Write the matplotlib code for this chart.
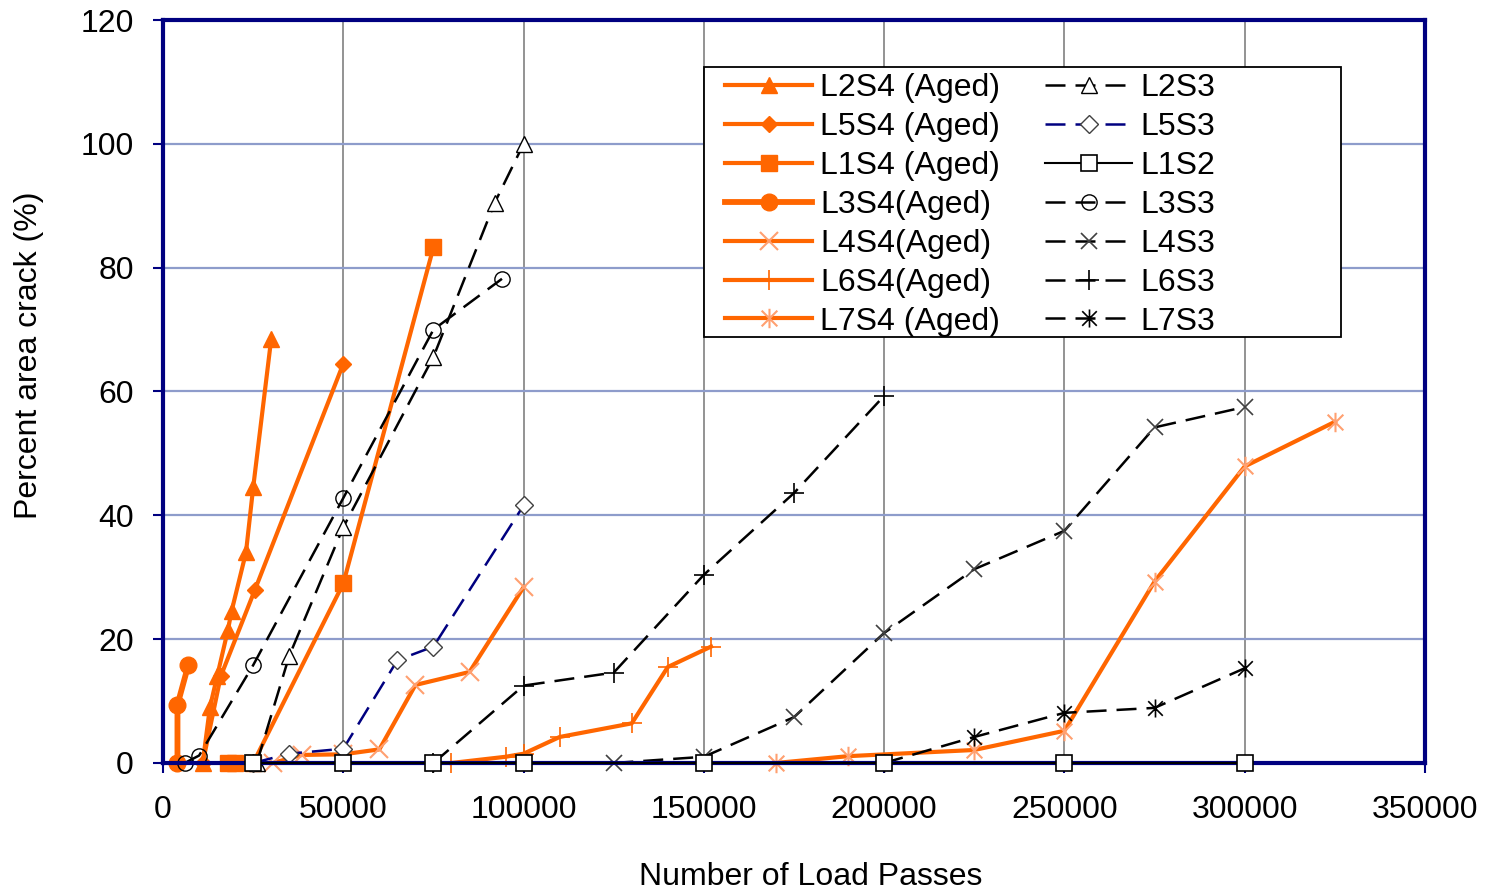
import matplotlib
matplotlib.use("Agg")
import matplotlib.pyplot as plt
from matplotlib.path import Path
from matplotlib.patches import Rectangle

plt.rcParams["font.family"] = ["Liberation Sans", "DejaVu Sans"]

# aged (S4) series
l2s4_x = [11000, 13000, 15000, 18000, 19000, 23000, 25000, 30000]
l2s4_y = [0, 9, 14, 21.5, 24.5, 34, 44.5, 68.5]
l5s4_x = [11000, 16000, 25500, 50000]
l5s4_y = [0, 14, 28, 64.5]
l1s4_x = [18000, 20000, 25000, 50000, 75000]
l1s4_y = [0, 0, 0, 29, 83.3]
l3s4_x = [4000, 4000, 7000]
l3s4_y = [0, 9.4, 15.8]
l4s4_x = [30500, 38500, 50000, 60000, 70000, 85000, 100000]
l4s4_y = [0, 1.3, 1.4, 2.2, 12.6, 14.7, 28.4]
l6s4_x = [80000, 95000, 100000, 110000, 130000, 140000, 152000]
l6s4_y = [0, 1.0, 1.5, 4.2, 6.4, 15.5, 18.8]
l7s4_x = [170000, 190000, 225000, 250000, 275000, 300000, 325000]
l7s4_y = [0, 1.1, 2.1, 5.2, 29.3, 47.9, 55.1]

# S3 / S2 series
l2s3_x = [26000, 35000, 50000, 75000, 92000, 100000]
l2s3_y = [0, 17.3, 38.1, 65.6, 90.5, 100]
l5s3_x = [25000, 35000, 50000, 65000, 75000, 100000]
l5s3_y = [0, 1.5, 2.3, 16.6, 18.8, 41.6]
l1s2_x = [25000, 50000, 75000, 100000, 150000, 200000, 250000, 300000]
l1s2_y = [0, 0, 0, 0, 0, 0, 0, 0]
l3s3_x = [6000, 10000, 25000, 50000, 75000, 94000]
l3s3_y = [0, 1.2, 15.8, 42.8, 70, 78.2]
l4s3_x = [50000, 75000, 100000, 125000, 150000, 175000, 200000, 225000, 250000, 275000, 300000]
l4s3_y = [0, 0, 0, 0, 1, 7.4, 21, 31.3, 37.5, 54.2, 57.5]
l6s3_x = [75000, 100000, 125000, 150000, 175000, 200000]
l6s3_y = [0, 12.5, 14.6, 30.4, 43.6, 59.3]
l7s3_x = [75000, 200000, 225000, 250000, 275000, 300000]
l7s3_y = [0, 0, 4.2, 8.1, 8.9, 15.3]

orange = "#FF6600"
light_orange = "#FFA070"
navy = "#000080"
dash = (8, 4)
fs = 23

# excel style star: an x with a vertical bar
star = Path([(-0.5, -0.5), (0.5, 0.5), (-0.5, 0.5), (0.5, -0.5), (0, -0.62), (0, 0.62)],
            [Path.MOVETO, Path.LINETO, Path.MOVETO, Path.LINETO, Path.MOVETO, Path.LINETO])

fig = plt.figure(figsize=(14.89, 8.93), dpi=100)
ax = fig.add_axes([0.1095, 0.1456, 0.8475, 0.832])

ax.plot(l2s4_x, l2s4_y, color=orange, lw=3, marker="^", ms=11, mfc=orange, mec=orange, label="L2S4 (Aged)", clip_on=False)
ax.plot(l5s4_x, l5s4_y, color=orange, lw=3, marker="D", ms=8, mfc=orange, mec=orange, label="L5S4 (Aged)", clip_on=False)
ax.plot(l1s4_x, l1s4_y, color=orange, lw=3, marker="s", ms=12, mfc=orange, mec=orange, label="L1S4 (Aged)", clip_on=False)
ax.plot(l3s4_x, l3s4_y, color=orange, lw=4.2, marker="o", ms=12, mfc=orange, mec=orange, label="L3S4(Aged)", clip_on=False)
ax.plot(l4s4_x, l4s4_y, color=orange, lw=3, marker="x", ms=13, mew=1.5, mec=light_orange, label="L4S4(Aged)", clip_on=False)
ax.plot(l6s4_x, l6s4_y, color=orange, lw=3, marker="+", ms=14, mew=1.2, mec=orange, label="L6S4(Aged)", clip_on=False)
ax.plot(l7s4_x, l7s4_y, color=orange, lw=3, marker=star, ms=14, mew=1.5, mec=light_orange, label="L7S4 (Aged)", clip_on=False)

ax.plot(l2s3_x, l2s3_y, color="black", lw=1.8, dashes=dash, marker="^", ms=11.5, mfc="white", mec="black", mew=1, label="L2S3", clip_on=False)
ax.plot(l5s3_x, l5s3_y, color=navy, lw=1.8, dashes=dash, marker="D", ms=9, mfc="white", mec="#404040", mew=1, label="L5S3", clip_on=False)
ax.plot(l1s2_x, l1s2_y, color="black", lw=1.5, marker="s", ms=11, mfc="white", mec="black", mew=1.2, label="L1S2", clip_on=False, zorder=4)
ax.plot(l3s3_x, l3s3_y, color="black", lw=1.8, dashes=dash, marker="o", ms=11, mfc="none", mec="black", mew=1, label="L3S3", clip_on=False)
ax.plot(l4s3_x, l4s3_y, color="black", lw=1.8, dashes=dash, marker="x", ms=12, mec="#404040", mew=1.2, label="L4S3", clip_on=False)
ax.plot(l6s3_x, l6s3_y, color="black", lw=1.8, dashes=dash, marker="+", ms=14, mec="black", mew=1.2, label="L6S3", clip_on=False)
ax.plot(l7s3_x, l7s3_y, color="black", lw=1.8, dashes=dash, marker=star, ms=13, mec="black", mew=1.2, label="L7S3", clip_on=False)

ax.set_xlim(0, 350000)
ax.set_ylim(0, 120)
ax.set_xticks(range(0, 350001, 50000))
ax.set_yticks(range(0, 121, 20))

ax.xaxis.grid(True, color="#808080", lw=1.2)
ax.yaxis.grid(True, color="#8E9CCB", lw=1.6)
ax.set_axisbelow(True)

for s in ax.spines.values():
    s.set_color(navy)
    s.set_linewidth(3)
    s.set_zorder(3)

ax.tick_params(direction="out", length=7, width=1.5, color=navy, labelsize=fs)
ax.tick_params(axis="x", pad=16)
ax.tick_params(axis="y", pad=14)

ax.set_xlabel("Number of Load Passes", fontsize=fs)
ax.set_ylabel("Percent area crack (%)", fontsize=fs)
ax.xaxis.set_label_coords(0.513, -0.133)
ax.yaxis.set_label_coords(-0.094, 0.549)

# legend box drawn separately so it keeps the wide right margin of the original
ax.add_patch(Rectangle((0.4287, 0.5727), 0.5048, 0.3647, transform=ax.transAxes,
                       facecolor="white", edgecolor="black", lw=1.3, zorder=5))
leg = ax.legend(ncol=2, loc="upper left", bbox_to_anchor=(0.4453, 0.9287), borderaxespad=0,
                fontsize=fs, handlelength=2.73, handletextpad=0.25, columnspacing=1.4,
                labelspacing=0.28, frameon=False, borderpad=0)
leg.set_zorder(6)

fig.savefig("out.png", dpi=100)
